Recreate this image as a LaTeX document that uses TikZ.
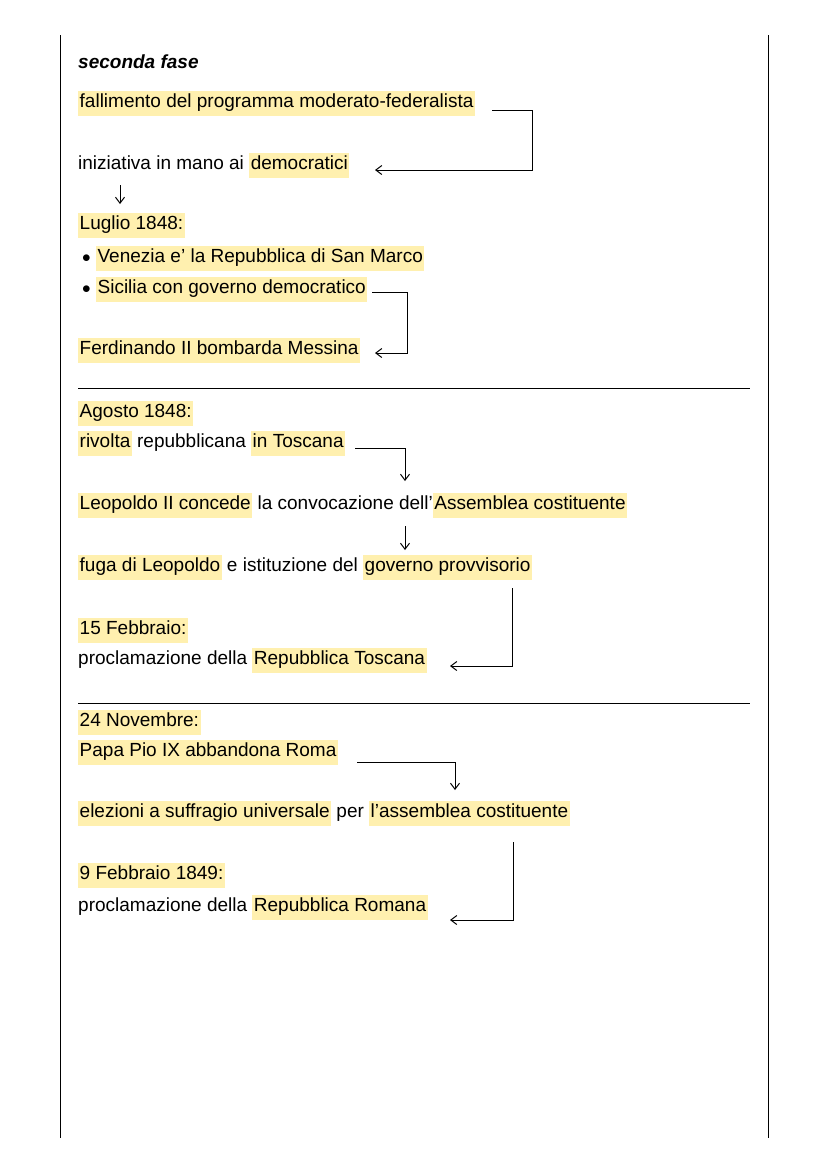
\documentclass[tikz,border=0pt]{standalone}
\usepackage{fontspec}
\setmainfont{Liberation Sans}
\usetikzlibrary{positioning,arrows.meta}
\definecolor{hlyellow}{RGB}{255,240,175}
\newcommand{\hl}[1]{{\setlength{\fboxsep}{1.5pt}\colorbox{hlyellow}{\strut #1}}}

\begin{document}
\begin{tikzpicture}[x=1pt,y=-1pt,
		line/.style={draw=black,line width=1pt},
		arr/.style={line,-{Straight Barb[length=6pt,width=9pt]}},
		txt/.style={anchor=west,inner sep=0pt,font=\fontsize{19}{22}\selectfont}]
		\useasboundingbox (0,0) rectangle (828,1171);
		% margins and separators
		\draw[line] (60,35) -- (60,1138);
		\draw[line] (768,35) -- (768,1138);
		\draw[line] (78,388) -- (750,388);
		\draw[line] (78,703) -- (750,703);
		% first part
		\node[txt,font=\fontsize{19}{22}\selectfont\bfseries\itshape] (title) at (78,62) {seconda fase};
		\node[txt] (fall) at (78,103) {\hl{fallimento del programma moderato-federalista}};
		\node[txt] (iniz) at (78,165) {iniziativa in mano ai \hl{democratici}};
		\node[txt] (lug) at (78,225) {\hl{Luglio 1848:}};
		\node[txt] (ven) at (82,258) {$\bullet$ \hl{Venezia e' la Repubblica di San Marco}};
		\node[txt] (sic) at (82,289) {$\bullet$ \hl{Sicilia con governo democratico}};
		\node[txt] (ferd) at (78,350) {\hl{Ferdinando II bombarda Messina}};
		\coordinate (a1) at (492,110);
		\coordinate (a2) at (375,170);
		\draw[arr] (a1) -| (532,170) -- (a2);
		\coordinate (d1) at (120,185);
		\coordinate (d2) at (120,204);
		\draw[arr] (d1) -- (d2);
		\coordinate (b1) at (372,292);
		\coordinate (b2) at (375,353);
		\draw[arr] (b1) -| (407,353) -- (b2);
		% second part
		\node[txt] (ago) at (78,413) {\hl{Agosto 1848:}};
		\node[txt] (riv) at (78,443) {\hl{rivolta} repubblicana \hl{in Toscana}};
		\node[txt] (leo) at (78,505) {\hl{Leopoldo II concede} la convocazione dell'\hl{Assemblea costituente}};
		\node[txt] (fuga) at (78,567) {\hl{fuga di Leopoldo} e istituzione del \hl{governo provvisorio}};
		\node[txt] (feb) at (78,630) {\hl{15 Febbraio:}};
		\node[txt] (proc) at (78,660) {proclamazione della \hl{Repubblica Toscana}};
		\coordinate (c1) at (355,448);
		\coordinate (c2) at (405,481);
		\draw[arr] (c1) -| (c2);
		\coordinate (e1) at (405,526);
		\coordinate (e2) at (405,550);
		\draw[arr] (e1) -- (e2);
		\coordinate (f1) at (512,588);
		\coordinate (f2) at (450,666);
		\draw[arr] (f1) |- (f2);
		% third part
		\node[txt] (nov) at (78,722) {\hl{24 Novembre:}};
		\node[txt] (papa) at (78,752) {\hl{Papa Pio IX abbandona Roma}};
		\node[txt] (ele) at (78,813) {\hl{elezioni a suffragio universale} per \hl{l'assemblea costituente}};
		\node[txt] (feb2) at (78,875) {\hl{9 Febbraio 1849:}};
		\node[txt] (proc2) at (78,907) {proclamazione della \hl{Repubblica Romana}};
		\coordinate (g1) at (357,762);
		\coordinate (g2) at (455,790);
		\draw[arr] (g1) -| (g2);
		\coordinate (h1) at (513,842);
		\coordinate (h2) at (450,920);
		\draw[arr] (h1) |- (h2);
	\end{tikzpicture}
\end{document}
